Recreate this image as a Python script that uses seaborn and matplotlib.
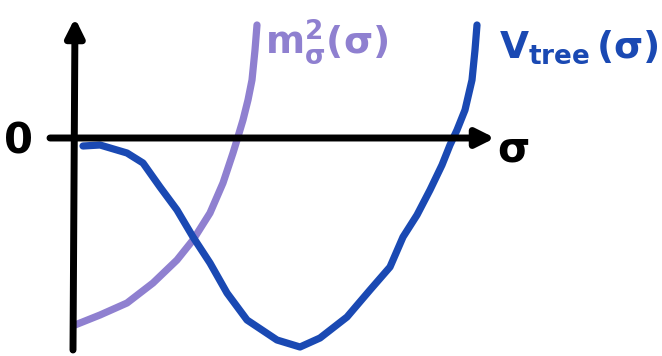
import matplotlib
matplotlib.use("Agg")
import matplotlib.pyplot as plt
import seaborn as sns
import pandas as pd

# Sketch of the tree-level potential and the sigma mass squared
mass_sigma = [0.0, 0.0625, 0.13, 0.195, 0.255, 0.295, 0.3375, 0.37, 0.395,
              0.405, 0.42, 0.4325, 0.4425, 0.45, 0.455]
mass_value = [-1.85, -1.75, -1.63, -1.43, -1.20, -1.00, -0.73, -0.43, -0.13,
              0.0, 0.20, 0.40, 0.60, 0.90, 1.15]

pot_sigma = [0.02, 0.0625, 0.13, 0.17, 0.2125, 0.255, 0.295, 0.3375, 0.38,
             0.43, 0.505, 0.5625, 0.6125, 0.68, 0.7375, 0.7875, 0.82, 0.855,
             0.8875, 0.9175, 0.9375, 0.955, 0.975, 0.9925, 1.0, 1.005]
pot_value = [-0.06, -0.05, -0.13, -0.23, -0.47, -0.70, -0.97, -1.23, -1.53,
             -1.80, -2.00, -2.07, -1.98, -1.77, -1.50, -1.27, -0.97, -0.75,
             -0.50, -0.25, -0.05, 0.10, 0.30, 0.60, 0.90, 1.15]

mass_label = r"$m^2_\sigma(\sigma)$"
pot_label = r"$V_{tree}\,(\sigma)$"
origin_label = "0"
axis_label = r"$\sigma$"

PURPLE = "#8f80d0"
BLUE = "#1a49b3"

sns.set_theme(style="white")
plt.rcParams["mathtext.fontset"] = "dejavusans"
plt.rcParams["mathtext.default"] = "bf"

fig = plt.figure(figsize=(6.62, 3.56), dpi=100)
ax = fig.add_axes([0, 0, 1, 1])
ax.set_xlim(-0.1875, 1.4675)
ax.set_ylim(-2.16, 1.40)
ax.axis("off")

mass_df = pd.DataFrame({"sigma": mass_sigma, "value": mass_value})
pot_df = pd.DataFrame({"sigma": pot_sigma, "value": pot_value})

# coordinate axes with arrowheads
arrow = dict(arrowstyle="-|>,head_length=0.9,head_width=0.45", color="black",
             lw=5, capstyle="round", joinstyle="round", shrinkA=0, shrinkB=0)
ax.annotate("", xy=(1.05, 0.02), xytext=(-0.0625, 0.02), arrowprops=arrow)
ax.annotate("", xy=(0.0, 1.22), xytext=(-0.005, -2.1), arrowprops=arrow)

for df, colour in ((mass_df, PURPLE), (pot_df, BLUE)):
    sns.lineplot(data=df, x="sigma", y="value", ax=ax, color=colour,
                 lw=5.2, sort=False, solid_capstyle="round",
                 solid_joinstyle="round")

ax.text(-0.14, -0.02, origin_label, fontsize=30, fontweight="bold",
        ha="center", va="center", color="black")
ax.text(1.095, -0.1, axis_label, fontsize=30, ha="center", va="center",
        color="black")
ax.text(0.63, 0.98, mass_label, fontsize=27, ha="center", va="center",
        color=PURPLE)
ax.text(1.26, 0.93, pot_label, fontsize=27, ha="center", va="center",
        color=BLUE)

fig.savefig("out.png", dpi=100)
